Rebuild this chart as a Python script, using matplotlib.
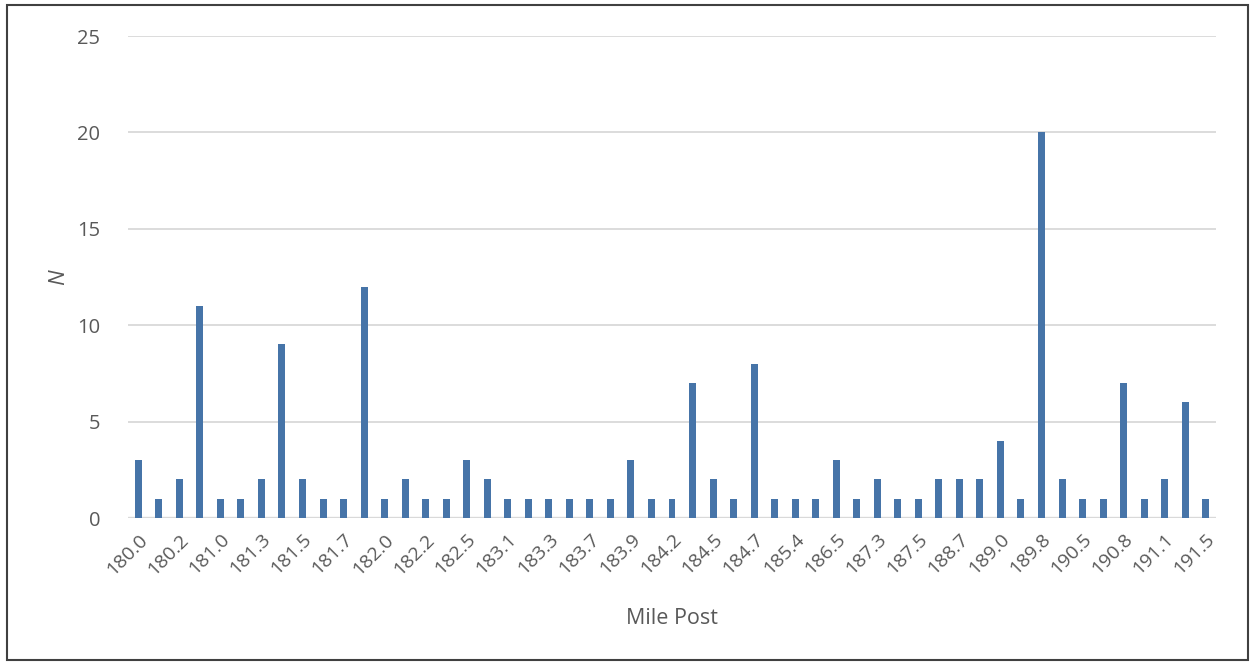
import matplotlib.pyplot as plt
from matplotlib.patches import Rectangle

mile_posts = ['180.0', '180.1', '180.2', '180.7', '181.0', '181.2', '181.3', '181.4',
              '181.5', '181.6', '181.7', '181.8', '182.0', '182.1', '182.2', '182.3',
              '182.5', '182.9', '183.1', '183.2', '183.3', '183.5', '183.7', '183.8',
              '183.9', '184.0', '184.2', '184.3', '184.5', '184.6', '184.7', '185.0',
              '185.4', '186.0', '186.5', '186.9', '187.3', '187.4', '187.5', '188.0',
              '188.7', '188.9', '189.0', '189.7', '189.8', '190.2', '190.5', '190.6',
              '190.8', '191.0', '191.1', '191.4', '191.5']
counts = [3, 1, 2, 11, 1, 1, 2, 9, 2, 1, 1, 12, 1, 2, 1, 1, 3, 2, 1, 1, 1, 1, 1, 1,
          3, 1, 1, 7, 2, 1, 8, 1, 1, 1, 3, 1, 2, 1, 1, 2, 2, 2, 4, 1, 20, 2, 1, 1,
          7, 1, 2, 6, 1]
y_ticks = [0, 5, 10, 15, 20, 25]

plt.rcParams['font.family'] = ['Open Sans', 'DejaVu Sans']
grey = '#595959'

fig = plt.figure(figsize=(12.53, 6.64), dpi=100)
ax = fig.add_axes([128 / 1253, 1 - 518 / 664, (1216 - 128) / 1253, (518 - 36) / 664])

# outer chart border
fig.patches.append(Rectangle((7 / 1253, 4 / 664), 1241 / 1253, 655 / 664,
                             transform=fig.transFigure, fill=False,
                             edgecolor='#404040', linewidth=1.5))

x = list(range(len(counts)))
ax.bar(x, counts, width=0.34, color='#4674a8', zorder=3)

ax.set_xlim(-0.5, len(counts) - 0.5)
ax.set_ylim(0, 25)
ax.set_yticks(y_ticks)
ax.yaxis.grid(True, color='#d9d9d9', linewidth=1.3, zorder=0)
ax.axhline(0, color='#d9d9d9', linewidth=2.4, zorder=2)

ax.set_xticks(x[::2])
ax.set_xticklabels(mile_posts[::2], rotation=45, ha='right', rotation_mode='anchor',
                   fontsize=14, color=grey)
ax.tick_params(axis='x', length=0, pad=9)
ax.tick_params(axis='y', length=0, pad=20, labelsize=14.5, labelcolor=grey)

for s in ax.spines.values():
    s.set_visible(False)

ax.set_xlabel('Mile Post', fontsize=15.5, color=grey, labelpad=21)
ax.set_ylabel('N', fontsize=16, color=grey, style='italic', labelpad=6)

fig.savefig('out.png', dpi=100)
